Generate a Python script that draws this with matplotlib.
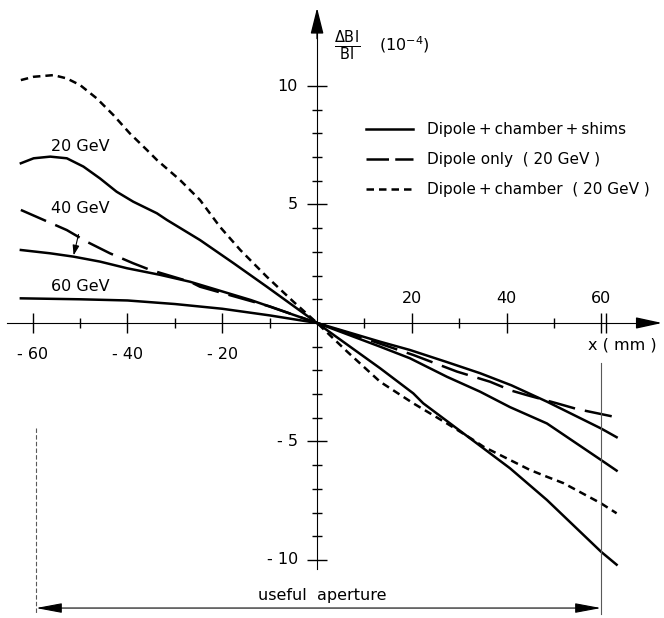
import numpy as np
import matplotlib
matplotlib.use("Agg")
import matplotlib.pyplot as plt
from matplotlib.lines import Line2D

plt.rcParams['font.family'] = ['DejaVu Sans']
plt.rcParams['mathtext.fontset'] = 'dejavusans'

# curves, x in mm, dBl/Bl in 1e-4
x_20 = [-62.5, -59.8, -56.3, -52.8, -49.3, -45.8, -42.3, -38.8, -33.8, -31.7, -24.7, -17.6, -10.6, 0,
        13.3, 20.3, 22.4, 33.7, 40.7, 48.5, 59.9, 63.2]
y_20 = [6.74, 6.95, 7.02, 6.95, 6.6, 6.1, 5.54, 5.12, 4.63, 4.35, 3.5, 2.52, 1.53, 0,
        -1.91, -2.97, -3.39, -5.08, -6.13, -7.47, -9.65, -10.2]

x_40 = [-62.5, -56.3, -51.4, -45.8, -40.1, -33.1, -26.8, -14.0, 0,
        13.3, 19.6, 27.4, 34.4, 40.7, 48.5, 59.9, 63.2]
y_40 = [3.08, 2.94, 2.8, 2.59, 2.31, 2.03, 1.74, 0.97, 0,
        -1.0, -1.49, -2.27, -2.9, -3.55, -4.24, -5.78, -6.23]

x_60 = [-62.5, -50, -40, -30, -20, -10, 0,
        13.3, 19.6, 27.4, 34.4, 41.0, 48.5, 59.9, 63.2]
y_60 = [1.04, 1.0, 0.95, 0.8, 0.6, 0.32, 0,
        -0.79, -1.14, -1.65, -2.12, -2.63, -3.32, -4.45, -4.82]

x_dip = [-62.5, -57.7, -52.8, -48.6, -43.7, -38.8, -35.2, -26.8, -24.7, -10, 0,
         10, 20.3, 29.5, 36.5, 41.1, 44.2, 50.6, 54.8, 63.2]
y_dip = [4.77, 4.35, 3.92, 3.43, 2.94, 2.52, 2.24, 1.74, 1.53, 0.7, 0,
         -0.65, -1.35, -2.05, -2.48, -2.86, -3.04, -3.39, -3.63, -3.98]

x_ch = [-62.5, -59.8, -55.6, -52.8, -50.0, -46.5, -43.0, -39.5, -35.9, -33.8, -28.9, -24.7, -20.5,
        -16.2, -10.6, -5.0, 0,
        6.3, 13.3, 20.3, 27.4, 33.0, 35.1, 40.7, 44.9, 48.5, 52.0, 59.9, 63.2]
y_ch = [10.25, 10.39, 10.46, 10.32, 10.04, 9.48, 8.78, 8.0, 7.3, 6.88, 6.03, 5.19, 4.06,
        3.08, 1.95, 0.9, 0,
        -1.2, -2.48, -3.39, -4.24, -4.94, -5.22, -5.78, -6.2, -6.49, -6.76, -7.61, -8.03]

x_major = [-60, -40, -20, 20, 40, 60]
y_major = [-10, -5, 5, 10]
aperture = [-59.3, 59.9]

fig = plt.figure(figsize=(6.64, 6.18), dpi=100)
ax = fig.add_axes([0, 0, 1, 1])
ax.set_xlim(-66.9, 73.2)
ax.set_ylim(-12.45, 13.63)

ts = '\u2009'
lw = 1.8
l20, = ax.plot(x_20, y_20, color='black', lw=lw)
ax.plot(x_40, y_40, color='black', lw=lw)
ax.plot(x_60, y_60, color='black', lw=lw)
ax.plot(x_dip, y_dip, color='black', lw=lw, linestyle=(0, (11, 4)))
lch, = ax.plot(x_ch, y_ch, color='black', lw=lw, linestyle=(0, (3, 2)))

# axes through origin
for s in ['top', 'right']:
    ax.spines[s].set_visible(False)
ax.spines['left'].set_position(('data', 0))
ax.spines['bottom'].set_position(('data', 0))
ax.spines['bottom'].set_bounds(-65.4, 70)
ax.spines['left'].set_bounds(-10.4, 12.5)
ax.set_xticks(x_major + [61])
ax.set_xticks([-50, -30, -10, 10, 30, 50], minor=True)
ax.set_yticks(y_major)
ax.set_yticks([-9, -8, -7, -6, -4, -3, -2, -1, 1, 2, 3, 4, 6, 7, 8, 9], minor=True)
ax.tick_params(which='major', direction='inout', length=14, width=1, labelbottom=False, labelleft=False)
ax.tick_params(which='minor', direction='inout', length=7, width=1)

ax.annotate('', xy=(72.8, 0), xytext=(68, 0),
            arrowprops=dict(arrowstyle='-|>,head_length=1.6,head_width=0.35', color='black', lw=1, shrinkA=0, shrinkB=0))
ax.annotate('', xy=(0, 13.3), xytext=(0, 12.0),
            arrowprops=dict(arrowstyle='-|>,head_length=1.6,head_width=0.4', color='black', lw=1, shrinkA=0, shrinkB=0))

fs = 11.5
for v in x_major:
    if v < 0:
        ax.text(v, -1.35, f'- {abs(v)}', ha='center', va='center', fontsize=fs)
    else:
        ax.text(v, 1.05, str(v), ha='center', va='center', fontsize=fs)
for v in y_major:
    lab = str(v) if v > 0 else f'- {abs(v)}'
    ax.text(-4.0, v, lab, ha='right', va='center', fontsize=fs)

ax.text(64.3, -0.95, 'x ( mm )', ha='center', va='center', fontsize=fs)
ax.text(6.3, 11.7, r'$\frac{\Delta \mathrm{Bl}}{\mathrm{Bl}}$', ha='center', va='center', fontsize=15)
ax.text(18.4, 11.75, r'$(10^{-4})$', ha='center', va='center', fontsize=fs)

ax.text(-50, 7.43, '20 GeV', ha='center', va='center', fontsize=fs)
ax.text(-50, 4.85, '40 GeV', ha='center', va='center', fontsize=fs)
ax.text(-50, 1.52, '60 GeV', ha='center', va='center', fontsize=fs)
ax.annotate('', xy=(-51.5, 2.74), xytext=(-50.2, 3.85),
            arrowprops=dict(arrowstyle='-|>,head_length=0.6,head_width=0.2', color='black', lw=0.8))

# useful aperture
ax.plot([aperture[1], aperture[1]], [-1.69, -12.3], color='0.35', lw=0.8)
ax.plot([aperture[0], aperture[0]], [-4.43, -12.3], color='0.35', lw=0.8, linestyle=(0, (4, 2)))
ax.annotate('', xy=(aperture[0], -12.03), xytext=(aperture[1], -12.03),
            arrowprops=dict(arrowstyle='<|-|>,head_length=1.6,head_width=0.3', color='black', lw=0.8,
                            shrinkA=0, shrinkB=0))
ax.text(1, -11.5, 'useful  aperture', ha='center', va='center', fontsize=fs)

# legend, dashed handle shortened so two dashes show like the original
dip_handle = Line2D([], [], color='black', lw=lw, linestyle=(0, (9, 2.5)))
labels = [f'Dipole{ts}+{ts}chamber{ts}+{ts}shims', 'Dipole only  ( 20 GeV )',
          f'Dipole{ts}+{ts}chamber  ( 20 GeV )']
ax.legend([l20, dip_handle, lch], labels, loc='upper left', bbox_to_anchor=(0.551, 0.802),
          frameon=False, fontsize=11, handlelength=3.07, handletextpad=0.9, labelspacing=0.98,
          borderpad=0, borderaxespad=0)

fig.savefig('out.png', dpi=100, facecolor='white')
